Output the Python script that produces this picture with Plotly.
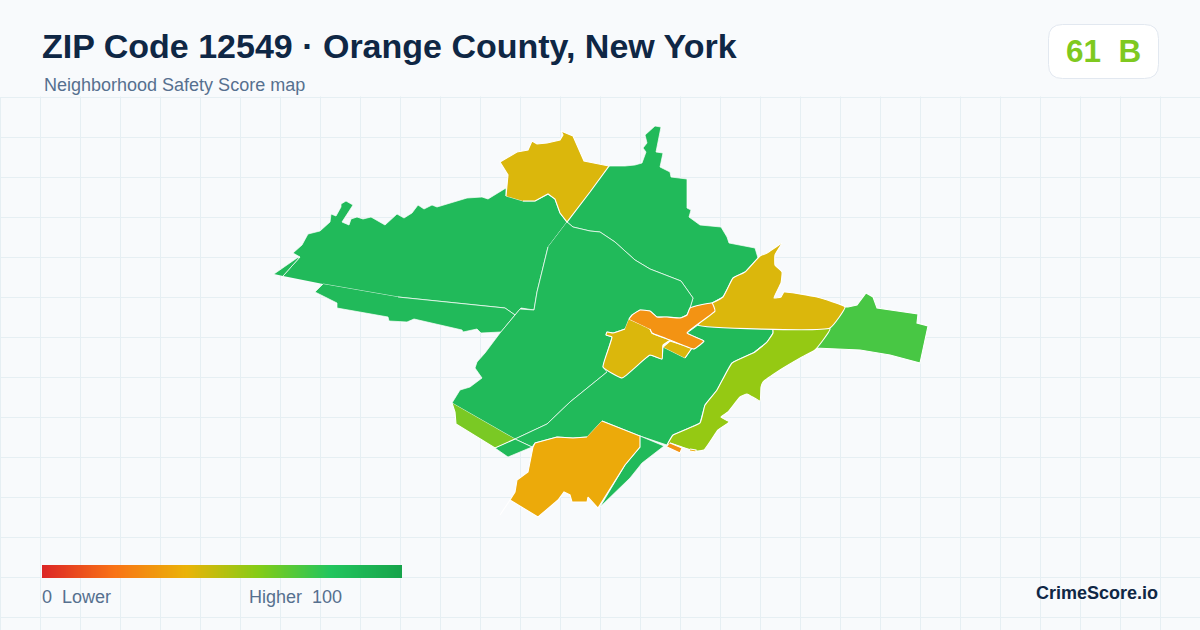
import plotly.graph_objects as go

TITLE = "ZIP Code 12549 · Orange County, New York"
SUBTITLE = "Neighborhood Safety Score map"
SCORE_TEXT = "61  B"
BRAND = "CrimeScore.io"
LEGEND_SCORES = list(range(0, 101))

# Region outlines (map units) -------------------------------------------------
WEST_SLIVER_X = [274, 297, 300, 283]
WEST_SLIVER_Y = [274, 258, 257, 276]
WEST_X = [283, 300, 293, 302, 308, 320, 330, 331, 336, 341, 341, 346, 353, 342, 349, 351, 357, 363, 371, 385, 397, 404, 412, 418, 424, 432, 437, 450, 467, 482, 488, 506, 506, 523, 535, 548, 555, 560, 567, 548, 543, 537, 534, 521, 515, 505, 398, 323]
WEST_Y = [276, 257, 253, 245, 234, 231, 222, 214, 216, 207, 204, 201, 205, 222, 225, 219, 217, 219, 217, 225, 214, 218, 213, 205, 209, 205, 207, 203, 198, 197, 199, 188, 196, 201, 201, 194, 199, 213, 222, 247, 267, 292, 310, 308, 315, 308, 297, 284]
SOUTHWEST_X = [323, 315, 337, 337, 388, 389, 407, 414, 462, 463, 477, 481, 501, 515, 505, 398]
SOUTHWEST_Y = [284, 292, 303, 308, 317, 321, 322, 319, 330, 332, 329, 333, 332, 315, 308, 297]
NORTH_X = [506, 508, 500, 517, 528, 532, 537, 547, 560, 563, 561, 573, 584, 609, 590, 567, 560, 555, 548, 535, 523]
NORTH_Y = [196, 175, 162, 152, 150, 141, 144, 143, 140, 135, 131, 136, 161, 166, 192, 222, 213, 199, 194, 201, 201]
NORTHEAST_X = [609, 625, 635, 642, 646, 643, 647, 645, 655, 661, 656, 663, 660, 670, 671, 687, 687, 691, 689, 700, 721, 727, 729, 755, 758, 745, 733, 723, 712, 690, 693, 681, 650, 635, 615, 600, 590, 573, 567]
NORTHEAST_Y = [166, 166, 165, 163, 152, 148, 143, 135, 126, 127, 152, 153, 167, 172, 177, 179, 208, 210, 217, 225, 227, 237, 243, 248, 258, 272, 278, 297, 303, 308, 298, 281, 269, 260, 242, 232, 231, 227, 222]
CENTRAL_X = [567, 573, 590, 600, 615, 635, 650, 681, 693, 690, 687, 680, 667, 657, 650, 640, 632, 629, 625, 613, 607, 606, 612, 603, 607, 570, 547, 515, 452, 460, 470, 482, 475, 477, 485, 500, 520, 534, 537, 543, 548]
CENTRAL_Y = [222, 227, 231, 232, 242, 260, 269, 281, 298, 308, 315, 318, 317, 317, 311, 310, 315, 319, 329, 333, 332, 335, 337, 367, 372, 402, 424, 439, 403, 390, 387, 378, 368, 362, 353, 333, 309, 310, 292, 267, 247]
SOUTHEAST_X = [603, 622, 632, 650, 662, 663, 685, 692, 694, 704, 687, 698, 773, 773, 767, 753, 733, 732, 717, 705, 700, 673, 667, 640, 602, 587, 573, 557, 535, 532, 515, 547, 570, 607]
SOUTHEAST_Y = [367, 378, 368, 355, 359, 347, 358, 348, 349, 341, 333, 325, 326, 333, 342, 353, 362, 363, 390, 405, 423, 435, 445, 436, 421, 437, 438, 437, 443, 447, 439, 424, 402, 372]
STRIP_X = [452, 455, 456, 495, 515]
STRIP_Y = [403, 412, 424, 448, 439]
STRIP_TIP_X = [495, 508, 532, 515]
STRIP_TIP_Y = [448, 457, 447, 439]
SOUTH_X = [602, 640, 640, 625, 598, 588, 587, 572, 570, 564, 558, 538, 510, 515, 517, 528, 533, 535, 557, 573, 587]
SOUTH_Y = [421, 436, 447, 465, 508, 497, 502, 502, 495, 492, 500, 517, 500, 492, 480, 472, 447, 443, 437, 438, 437]
SOUTH_SPUR_X = [500, 510]
SOUTH_SPUR_Y = [515, 500]
SOUTH_EDGE_X = [640, 664, 642, 630, 600, 625, 640]
SOUTH_EDGE_Y = [436, 446, 463, 478, 507, 465, 447]
RIVER_X = [667, 673, 700, 705, 717, 732, 755, 767, 773, 773, 830, 815, 802, 780, 763, 761, 760, 747, 740, 728, 721, 729, 718, 704, 696, 682, 670]
RIVER_Y = [445, 435, 423, 405, 390, 363, 352, 342, 333, 326, 329, 350, 357, 370, 382, 387, 401, 394, 397, 412, 417, 422, 430, 450, 451, 447, 443]
RIVER_BIT_X = [670, 682, 680, 667]
RIVER_BIT_Y = [443, 448, 453, 447]
RIVER_DASH_X = [690, 696, 696, 690]
RIVER_DASH_Y = [449, 450, 452, 451]
MID_EAST_X = [714, 698, 830, 845, 817, 784, 781, 774, 781, 782, 775, 775, 782, 767, 760, 745, 733, 723, 712]
MID_EAST_Y = [310, 325, 328, 307, 297, 292, 297, 298, 283, 272, 265, 255, 243, 253, 256, 272, 278, 297, 303]
EAST_X = [845, 848, 857, 866, 873, 877, 918, 917, 928, 920, 890, 860, 815, 830]
EAST_Y = [307, 307, 305, 293, 297, 308, 314, 323, 326, 363, 355, 350, 348, 328]
TOWN_X = [629, 632, 640, 650, 657, 667, 680, 687, 690, 712, 715, 687, 704, 694, 670, 652, 650]
TOWN_Y = [319, 315, 310, 311, 317, 317, 318, 315, 308, 303, 311, 333, 341, 349, 340, 333, 329]
TOWN_WEST_X = [629, 650, 652, 670, 663, 662, 650, 622, 603, 612, 606, 607, 613, 625]
TOWN_WEST_Y = [319, 329, 333, 340, 345, 359, 355, 378, 367, 337, 335, 332, 333, 329]
TOWN_SOUTH_X = [663, 670, 692, 685]
TOWN_SOUTH_Y = [347, 341, 348, 358]

GREEN, YELLOW, ORANGE, AMBER = "#21ba5a", "#dbb70c", "#f39313", "#ecaa0a"
OLIVE, LIME, MIDGREEN = "#95c913", "#7ac924", "#48c744"

REGIONS = [
    (WEST_X, WEST_Y, GREEN), (WEST_SLIVER_X, WEST_SLIVER_Y, GREEN), (SOUTHWEST_X, SOUTHWEST_Y, GREEN),
    (NORTHEAST_X, NORTHEAST_Y, GREEN), (CENTRAL_X, CENTRAL_Y, GREEN), (SOUTHEAST_X, SOUTHEAST_Y, GREEN),
    (STRIP_TIP_X, STRIP_TIP_Y, GREEN), (SOUTH_EDGE_X, SOUTH_EDGE_Y, GREEN),
    (STRIP_X, STRIP_Y, LIME), (EAST_X, EAST_Y, MIDGREEN), (RIVER_X, RIVER_Y, OLIVE),
    (SOUTH_X, SOUTH_Y, AMBER), (SOUTH_SPUR_X, SOUTH_SPUR_Y, AMBER), (RIVER_BIT_X, RIVER_BIT_Y, ORANGE),
    (RIVER_DASH_X, RIVER_DASH_Y, AMBER), (NORTH_X, NORTH_Y, YELLOW), (MID_EAST_X, MID_EAST_Y, YELLOW),
    (TOWN_WEST_X, TOWN_WEST_Y, YELLOW), (TOWN_SOUTH_X, TOWN_SOUTH_Y, YELLOW), (TOWN_X, TOWN_Y, ORANGE),
]
CURVED = {id(RIVER_X), id(TOWN_X), id(MID_EAST_X), id(TOWN_WEST_X)}

W, H, TOP = 1200, 630, 90
BG = "#f8fafc"
fig = go.Figure()
for xs, ys, colour in REGIONS:
    line = dict(color="#ffffff", width=0.7 if colour == GREEN else 1.1)
    if id(xs) in CURVED:
        line.update(shape="spline", smoothing=0.35)
    fig.add_trace(go.Scatter(x=xs, y=ys, mode="lines", fill="toself", fillcolor=colour,
                             line=line, hoverinfo="skip", showlegend=False))

fig.add_trace(go.Heatmap(
    x=LEGEND_SCORES, y=[0], z=[LEGEND_SCORES], xaxis="x2", yaxis="y2", showscale=False, hoverinfo="skip",
    zsmooth="best", zmin=0, zmax=100,
    colorscale=[[0, "#dc2626"], [0.2, "#f97316"], [0.4, "#eab308"], [0.6, "#84cc16"], [0.8, "#22c55e"], [1, "#16a34a"]],
))

SANS = "Liberation Sans, Arial, sans-serif"
def text(x, y, s, size, colour, bold=False, anchor="left"):
    fig.add_annotation(x=x / W, y=1 - y / H, xref="paper", yref="paper", text=f"<b>{s}</b>" if bold else s,
                       showarrow=False, xanchor=anchor, yanchor="middle",
                       font=dict(family=SANS, size=size, color=colour), xshift=0, yshift=0,
                       borderpad=0, borderwidth=0)

text(42, 46.5, TITLE, 34, "#0f2745", bold=True)
text(44, 85, SUBTITLE, 18, "#56708f")
text(1103.5, 51, SCORE_TEXT, 31.5, "#7fc91f", bold=True, anchor="center")
text(42, 597, "0  Lower", 18, "#56708f")
text(249, 597, "Higher  100", 18, "#56708f")
text(1158, 593, BRAND, 18, "#0f2745", bold=True, anchor="right")

def fx(v): return v / W
def fy(v): return 1 - v / H
L, R, T, B, r = 1048.5, 1158.5, 24.5, 78.5, 14
badge = (f"M {fx(L+r)} {fy(T)} L {fx(R-r)} {fy(T)} Q {fx(R)} {fy(T)} {fx(R)} {fy(T+r)} "
         f"L {fx(R)} {fy(B-r)} Q {fx(R)} {fy(B)} {fx(R-r)} {fy(B)} L {fx(L+r)} {fy(B)} "
         f"Q {fx(L)} {fy(B)} {fx(L)} {fy(B-r)} L {fx(L)} {fy(T+r)} Q {fx(L)} {fy(T)} {fx(L+r)} {fy(T)} Z")
fig.add_shape(type="path", path=badge, xref="paper", yref="paper", fillcolor="#ffffff",
              line=dict(color="#e2e8f0", width=1))

GRID = "#e6eff3"
# First grid column, which plotly clips at the axis edge.
fig.add_shape(type="line", xref="x", yref="y", x0=0.5, x1=0.5, y0=97, y1=H, layer="between",
              line=dict(color=GRID, width=1))
# The grid begins under the header: mask the stub above the first grid row.
fig.add_shape(type="rect", xref="x", yref="y", x0=0, x1=W, y0=TOP, y1=96.5, layer="between",
              fillcolor=BG, line=dict(width=0))
fig.update_layout(
    width=W, height=H, margin=dict(l=0, r=0, t=0, b=0), autosize=False,
    paper_bgcolor=BG, plot_bgcolor=BG, showlegend=False,
    xaxis=dict(range=[0, W], domain=[0, 1], tick0=0.5, dtick=40, showgrid=True, gridcolor=GRID, gridwidth=1,
               zeroline=False, showticklabels=False, ticks="", showline=False),
    yaxis=dict(range=[H, TOP], domain=[0, (H - TOP) / H], tick0=97.0, dtick=40, showgrid=True, gridcolor=GRID, gridwidth=1,
               zeroline=False, showticklabels=False, ticks="", showline=False),
    xaxis2=dict(range=[0, 100], domain=[42 / W, 402 / W], anchor="y2", visible=False),
    yaxis2=dict(range=[-0.5, 0.5], domain=[1 - 578 / H, 1 - 565 / H], anchor="x2", visible=False),
)
fig.write_html("out.html", config=dict(displayModeBar=False, staticPlot=True),
               post_script="document.body.style.margin='0';")
